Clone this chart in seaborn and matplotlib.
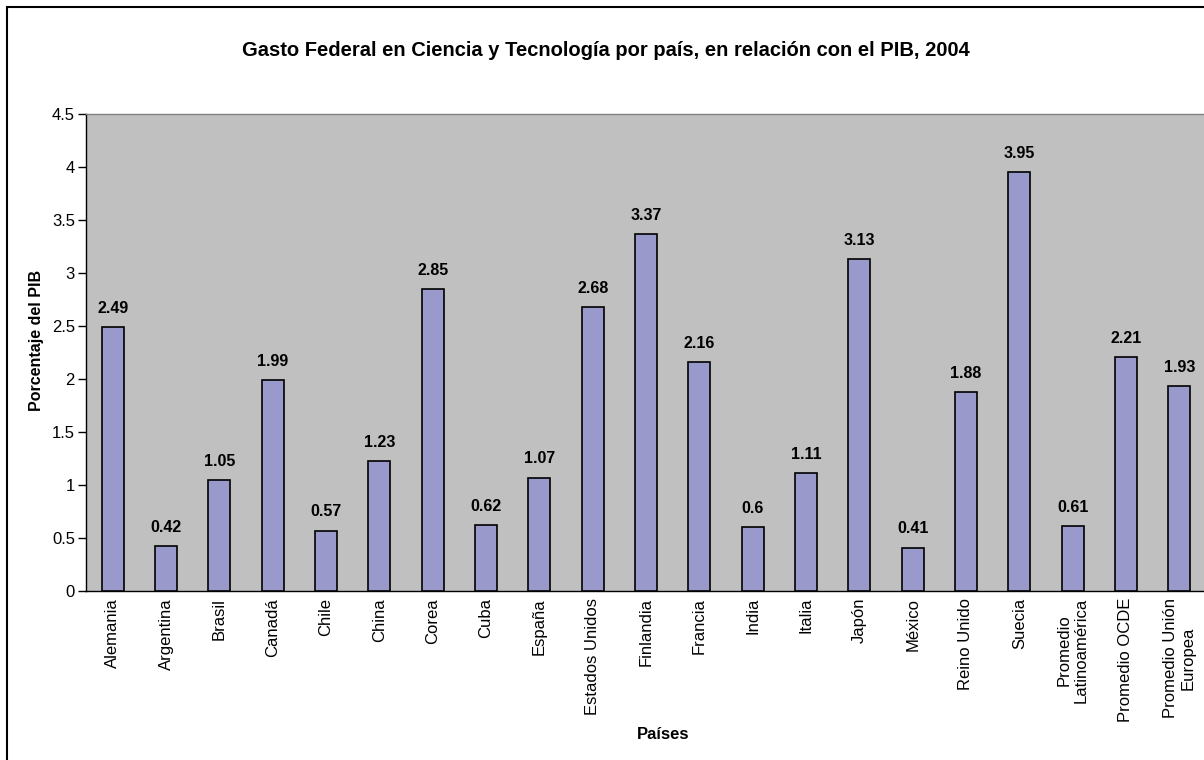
import matplotlib
matplotlib.use("Agg")
import matplotlib.pyplot as plt
from matplotlib.patches import Rectangle
import numpy as np
import pandas as pd
import seaborn as sns

# Gasto federal en ciencia y tecnología (% del PIB), 2004
paises = [
    "Alemania", "Argentina", "Brasil", "Canadá", "Chile", "China", "Corea",
    "Cuba", "España", "Estados Unidos", "Finlandia", "Francia", "India",
    "Italia", "Japón", "México", "Reino Unido", "Suecia",
    "Promedio\nLatinoamérica", "Promedio OCDE", "Promedio Unión\nEuropea",
]
porcentaje = [
    2.49, 0.42, 1.05, 1.99, 0.57, 1.23, 2.85, 0.62, 1.07, 2.68, 3.37,
    2.16, 0.6, 1.11, 3.13, 0.41, 1.88, 3.95, 0.61, 2.21, 1.93,
]
etiquetas = ["2.49", "0.42", "1.05", "1.99", "0.57", "1.23", "2.85", "0.62",
             "1.07", "2.68", "3.37", "2.16", "0.6", "1.11", "3.13", "0.41",
             "1.88", "3.95", "0.61", "2.21", "1.93"]
y_ticks = [0, 0.5, 1, 1.5, 2, 2.5, 3, 3.5, 4, 4.5]
y_ticklabels = ["0", "0.5", "1", "1.5", "2", "2.5", "3", "3.5", "4", "4.5"]

sns.set_style("white")
plt.rcParams["font.family"] = ["Liberation Sans", "DejaVu Sans"]
plt.rcParams["text.color"] = "black"
plt.rcParams["axes.labelcolor"] = "black"
plt.rcParams["xtick.color"] = "black"
plt.rcParams["ytick.color"] = "black"

df = pd.DataFrame({"pais": paises, "valor": porcentaje})

fig = plt.figure(figsize=(12.04, 7.60), dpi=100)
fig.patch.set_facecolor("white")

# outer chart-area frame
fig.patches.append(Rectangle((7 / 1204, -0.05), 1.2, 1 - 7 / 760 + 0.05,
                             transform=fig.transFigure, fill=False,
                             edgecolor="black", linewidth=1.5, zorder=0))

ax = fig.add_axes([86 / 1204, 1 - 591 / 760, 1120 / 1204, (591 - 114) / 760])
ax.set_facecolor("#C0C0C0")

sns.barplot(data=df, x="pais", y="valor", ax=ax, color="#9999CC",
            saturation=1, width=0.41, edgecolor="black", linewidth=1.2,
            zorder=3)

n = len(paises)
ax.set_xlim(-0.5, n - 0.5)
ax.set_ylim(0, 4.5)

for i, (v, t) in enumerate(zip(porcentaje, etiquetas)):
    ax.annotate(t, (i, v), xytext=(0, 8), textcoords="offset points",
                ha="center", va="bottom", fontsize=11.5, fontweight="bold",
                zorder=4)

ax.set_yticks(y_ticks)
ax.set_yticklabels(y_ticklabels, fontsize=12)
ax.set_xticks(np.arange(n))
ax.set_xticklabels(paises, rotation=90, fontsize=12, ha="center",
                   va="top", multialignment="center")
ax.set_xticks(np.arange(n + 1) - 0.5, minor=True)
ax.tick_params(axis="x", which="major", length=0, pad=5)
ax.tick_params(axis="x", which="minor", length=4, width=1, direction="out",
               color="black")
ax.tick_params(axis="y", length=6, width=1, direction="out", color="black",
               pad=2, left=True)

for side in ("left", "bottom"):
    ax.spines[side].set_color("black")
    ax.spines[side].set_linewidth(1)
ax.spines["top"].set_color("#808080")
ax.spines["top"].set_linewidth(1)
ax.spines["right"].set_visible(False)

ax.set_xlabel("Países", fontsize=12, fontweight="bold")
ax.set_ylabel("Porcentaje del PIB", fontsize=11.5, fontweight="bold")
ax.xaxis.set_label_coords(0.515, -0.285)
ax.yaxis.label.set_va("center")
ax.yaxis.set_label_coords(-(86 - 37) / 1120, 0.525)

fig.suptitle("Gasto Federal en Ciencia y Tecnología por país, en relación con el PIB, 2004",
             x=0.503, y=1 - 50 / 760, va="center", fontsize=14.5,
             fontweight="bold")

fig.savefig("out.png", dpi=100)
